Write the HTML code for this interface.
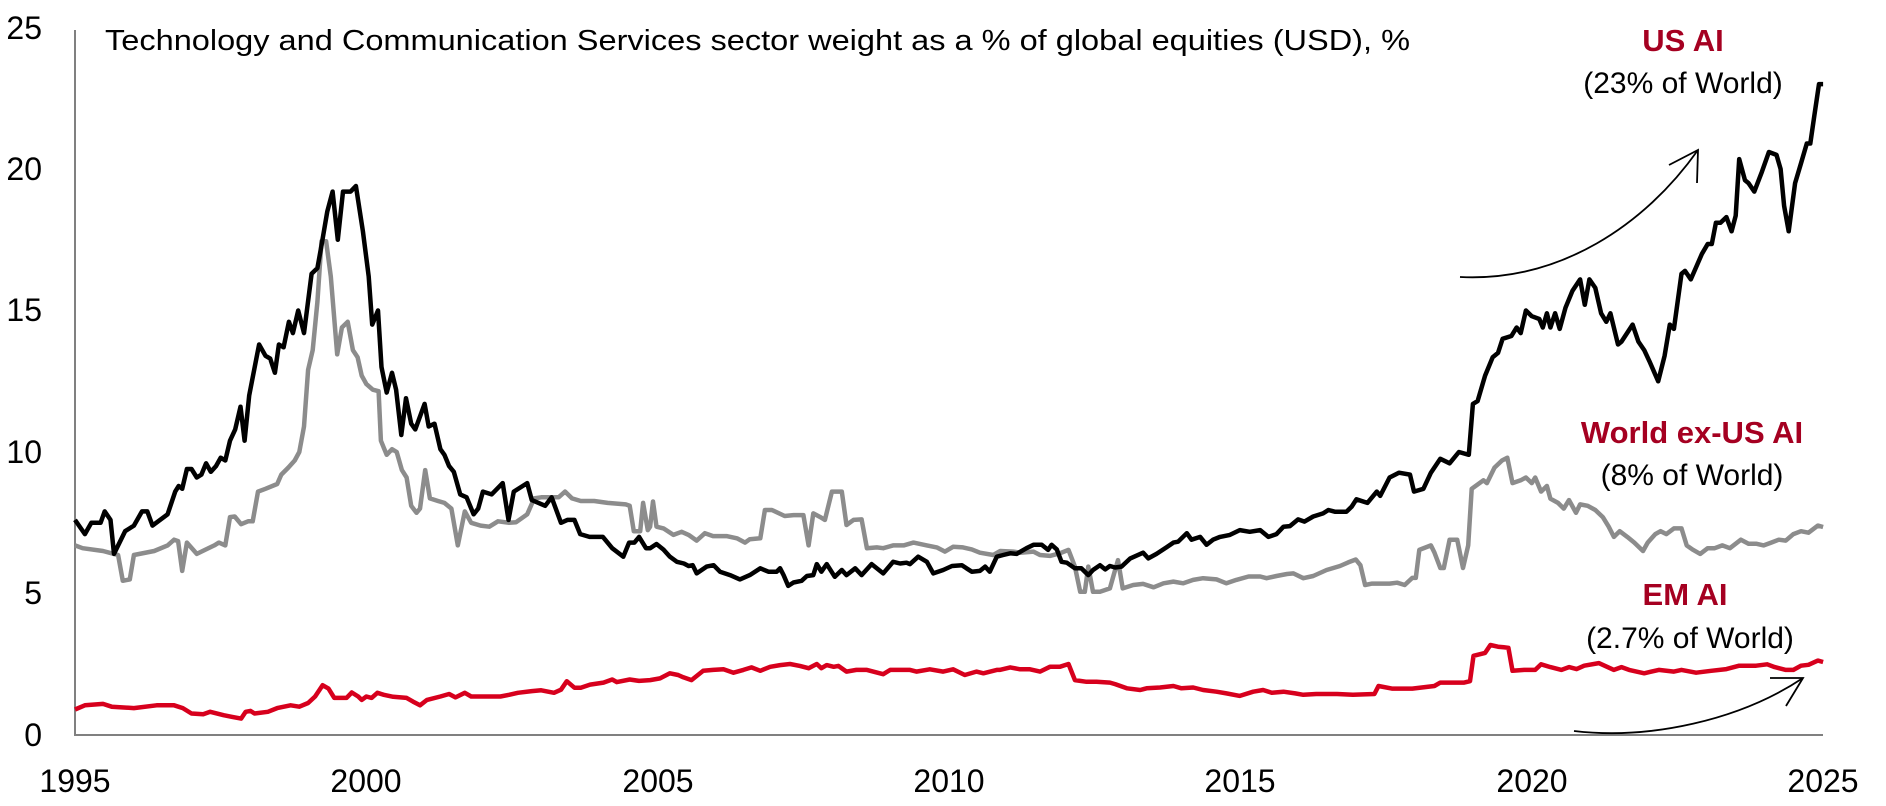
<!DOCTYPE html>
<html><head><meta charset="utf-8"><style>
html,body{margin:0;padding:0;background:#fff;}
svg{display:block;}
text{font-family:"Liberation Sans",Arial,sans-serif;}
</style></head><body>
<svg id="s" width="1886" height="806" viewBox="0 0 1886 806" xmlns="http://www.w3.org/2000/svg">
<rect width="1886" height="806" fill="#fff"/>
<line x1="75" y1="30" x2="75" y2="736" stroke="#808080" stroke-width="2"/>
<line x1="74" y1="735" x2="1823" y2="735" stroke="#808080" stroke-width="2"/>
<g font-size="32" fill="#000" text-anchor="end">
<text x="42" y="746">0</text>
<text x="42" y="604">5</text>
<text x="42" y="463">10</text>
<text x="42" y="321">15</text>
<text x="42" y="180">20</text>
<text x="42" y="39">25</text>
</g>
<g font-size="32" fill="#000" text-anchor="middle">
<text x="75" y="792">1995</text>
<text x="366" y="792">2000</text>
<text x="658" y="792">2005</text>
<text x="949" y="792">2010</text>
<text x="1240" y="792">2015</text>
<text x="1532" y="792">2020</text>
<text x="1823" y="792">2025</text>
</g>
<text x="105" y="50" font-size="29" fill="#000" textLength="1305" lengthAdjust="spacingAndGlyphs">Technology and Communication Services sector weight as a % of global equities (USD), %</text>
<g text-anchor="middle">
<text x="1683" y="51" font-size="31" font-weight="bold" fill="#a50021">US AI</text>
<text x="1683" y="93" font-size="30" fill="#000">(23% of World)</text>
<text x="1692" y="443" font-size="31" font-weight="bold" fill="#a50021">World ex-US AI</text>
<text x="1692" y="485" font-size="30" fill="#000">(8% of World)</text>
<text x="1685" y="605" font-size="31" font-weight="bold" fill="#a50021">EM AI</text>
<text x="1690" y="648" font-size="30" fill="#000">(2.7% of World)</text>
</g>
<path id="red" fill="none" stroke="#d7001d" stroke-width="4.5" stroke-linejoin="round"/>
<path id="gray" fill="none" stroke="#8c8c8c" stroke-width="4.5" stroke-linejoin="round"/>
<path id="black" fill="none" stroke="#000" stroke-width="4.5" stroke-linejoin="round"/>
<path d="M1460,277 C1560,282 1645,225 1698,150" fill="none" stroke="#000" stroke-width="1.8"/>
<path d="M1669,165 L1698,150 L1697,183" fill="none" stroke="#000" stroke-width="1.8"/>
<path d="M1574,731 C1650,740 1740,720 1803,678" fill="none" stroke="#000" stroke-width="1.8"/>
<path d="M1770,678 L1803,678 L1786,706" fill="none" stroke="#000" stroke-width="1.8"/>
</svg>
<script>
function X(y){return 75+(y-1995)*58.27;}
function Y(v){return 735-v*28.3;}
function P(a){var s="";for(var i=0;i<a.length;i+=2){s+=(i?"L":"M")+X(a[i]).toFixed(1)+","+Y(a[i+1]).toFixed(1);}return s;}
var black=[1995.0,7.6,1995.17,7.1,1995.28,7.5,1995.44,7.5,1995.51,7.9,1995.61,7.6,1995.67,6.4,1995.86,7.2,1996.01,7.4,1996.15,7.9,1996.24,7.9,1996.33,7.4,1996.59,7.8,1996.72,8.6,1996.78,8.8,1996.84,8.7,1996.92,9.4,1997.0,9.4,1997.09,9.1,1997.17,9.2,1997.25,9.6,1997.33,9.3,1997.42,9.5,1997.5,9.8,1997.58,9.7,1997.66,10.4,1997.75,10.8,1997.84,11.6,1997.91,10.4,1997.99,12.0,1998.16,13.8,1998.27,13.4,1998.35,13.3,1998.43,12.8,1998.5,13.8,1998.58,13.7,1998.67,14.6,1998.74,14.2,1998.83,15.0,1998.93,14.2,1999.06,16.3,1999.16,16.5,1999.23,17.3,1999.33,18.5,1999.42,19.2,1999.51,17.5,1999.6,19.2,1999.73,19.2,1999.82,19.4,1999.94,17.8,2000.04,16.2,2000.1,14.5,2000.2,15.0,2000.26,13.0,2000.35,12.1,2000.44,12.8,2000.51,12.2,2000.6,10.6,2000.68,11.9,2000.77,11.0,2000.84,10.8,2001.0,11.7,2001.07,10.9,2001.17,11.0,2001.27,10.1,2001.34,9.9,2001.42,9.5,2001.5,9.3,2001.61,8.5,2001.72,8.4,2001.84,7.8,2001.92,8.0,2002.0,8.6,2002.15,8.5,2002.34,8.9,2002.44,7.6,2002.53,8.6,2002.76,8.9,2002.84,8.3,2003.07,8.1,2003.18,8.4,2003.34,7.5,2003.45,7.6,2003.57,7.6,2003.67,7.1,2003.83,7.0,2004.06,7.0,2004.22,6.6,2004.41,6.3,2004.51,6.8,2004.6,6.8,2004.68,7.0,2004.8,6.6,2004.87,6.6,2004.98,6.75,2005.1,6.55,2005.21,6.3,2005.33,6.12,2005.45,6.06,2005.53,5.97,2005.6,6.0,2005.67,5.71,2005.84,5.95,2005.96,6.0,2006.07,5.77,2006.24,5.65,2006.41,5.5,2006.58,5.65,2006.76,5.89,2006.9,5.77,2007.04,5.77,2007.1,5.89,2007.16,5.65,2007.24,5.27,2007.33,5.39,2007.47,5.45,2007.56,5.62,2007.67,5.65,2007.73,6.04,2007.81,5.77,2007.9,6.04,2008.04,5.59,2008.16,5.83,2008.24,5.65,2008.39,5.89,2008.5,5.65,2008.67,6.04,2008.87,5.71,2009.04,6.12,2009.16,6.06,2009.27,6.09,2009.33,6.04,2009.47,6.3,2009.62,6.12,2009.73,5.71,2009.9,5.83,2010.05,5.97,2010.22,6.0,2010.3,5.89,2010.39,5.77,2010.53,5.8,2010.62,5.95,2010.7,5.77,2010.82,6.3,2010.93,6.36,2011.05,6.42,2011.16,6.4,2011.33,6.6,2011.45,6.72,2011.59,6.72,2011.7,6.54,2011.76,6.72,2011.85,6.56,2011.93,6.12,2012.02,6.09,2012.16,5.89,2012.27,5.89,2012.39,5.65,2012.47,5.83,2012.59,6.0,2012.68,5.85,2012.76,5.97,2012.85,5.92,2012.96,5.95,2013.11,6.24,2013.33,6.44,2013.42,6.24,2013.56,6.4,2013.73,6.63,2013.85,6.8,2013.93,6.83,2014.08,7.13,2014.16,6.9,2014.31,7.0,2014.42,6.72,2014.53,6.9,2014.65,7.0,2014.82,7.07,2014.99,7.24,2015.16,7.18,2015.34,7.24,2015.48,7.0,2015.62,7.1,2015.74,7.36,2015.85,7.38,2015.99,7.62,2016.1,7.54,2016.25,7.72,2016.42,7.83,2016.51,7.95,2016.62,7.89,2016.82,7.89,2016.91,8.07,2016.99,8.33,2017.18,8.2,2017.34,8.6,2017.4,8.45,2017.56,9.1,2017.72,9.27,2017.91,9.2,2017.98,8.6,2018.14,8.7,2018.27,9.27,2018.43,9.76,2018.59,9.6,2018.75,10.0,2018.92,9.9,2018.99,11.7,2019.07,11.8,2019.2,12.7,2019.33,13.35,2019.42,13.5,2019.5,14.0,2019.65,14.1,2019.74,14.4,2019.81,14.2,2019.9,15.0,2020.0,14.8,2020.13,14.7,2020.19,14.4,2020.26,14.9,2020.32,14.4,2020.4,14.9,2020.48,14.35,2020.58,15.1,2020.7,15.7,2020.83,16.1,2020.91,15.2,2020.99,16.1,2021.09,15.8,2021.19,14.9,2021.28,14.6,2021.35,14.9,2021.48,13.8,2021.54,13.9,2021.73,14.5,2021.83,13.9,2021.93,13.6,2022.02,13.2,2022.17,12.5,2022.28,13.4,2022.37,14.5,2022.44,14.35,2022.57,16.3,2022.63,16.4,2022.73,16.1,2022.92,17.0,2023.02,17.35,2023.09,17.35,2023.16,18.1,2023.24,18.1,2023.34,18.3,2023.43,17.8,2023.5,18.35,2023.56,20.35,2023.66,19.6,2023.72,19.5,2023.82,19.2,2023.95,19.9,2024.07,20.6,2024.2,20.5,2024.27,20.0,2024.33,18.7,2024.41,17.8,2024.52,19.5,2024.62,20.2,2024.72,20.9,2024.78,20.9,2024.85,21.9,2024.93,23.0,2025.0,23.0];
var gray=[1995.0,6.7,1995.13,6.6,1995.48,6.5,1995.67,6.4,1995.74,6.36,1995.82,5.45,1995.94,5.5,1996.01,6.36,1996.36,6.5,1996.59,6.7,1996.7,6.9,1996.77,6.85,1996.84,5.8,1996.92,6.8,1997.09,6.4,1997.24,6.55,1997.39,6.7,1997.47,6.8,1997.58,6.7,1997.66,7.7,1997.74,7.72,1997.85,7.45,1997.97,7.55,1998.05,7.55,1998.14,8.6,1998.27,8.7,1998.47,8.87,1998.54,9.2,1998.66,9.45,1998.77,9.7,1998.85,10.0,1998.93,10.9,1999.0,12.9,1999.08,13.6,1999.16,15.3,1999.23,17.45,1999.31,17.45,1999.39,16.2,1999.5,13.45,1999.58,14.4,1999.68,14.6,1999.77,13.6,1999.85,13.35,1999.92,12.7,2000.0,12.4,2000.11,12.2,2000.21,12.15,2000.25,10.4,2000.35,9.9,2000.44,10.1,2000.52,10.0,2000.61,9.36,2000.69,9.1,2000.77,8.1,2000.86,7.85,2000.92,8.0,2001.01,9.36,2001.09,8.36,2001.23,8.27,2001.34,8.2,2001.46,8.0,2001.57,6.7,2001.69,7.9,2001.8,7.5,2001.96,7.4,2002.11,7.36,2002.26,7.55,2002.45,7.5,2002.57,7.52,2002.76,7.8,2002.88,8.36,2003.0,8.4,2003.3,8.4,2003.41,8.6,2003.53,8.36,2003.68,8.27,2003.91,8.27,2004.14,8.2,2004.45,8.15,2004.52,8.1,2004.59,7.2,2004.7,7.2,2004.75,8.2,2004.83,7.24,2004.87,7.36,2004.92,8.25,2004.98,7.36,2005.1,7.3,2005.27,7.07,2005.41,7.18,2005.53,7.07,2005.67,6.87,2005.81,7.13,2005.95,7.03,2006.18,7.03,2006.36,6.95,2006.5,6.8,2006.58,6.92,2006.76,6.95,2006.84,7.95,2006.96,7.95,2007.18,7.74,2007.33,7.77,2007.5,7.77,2007.59,6.7,2007.67,7.83,2007.79,7.7,2007.87,7.6,2007.99,8.6,2008.16,8.6,2008.24,7.42,2008.36,7.6,2008.5,7.62,2008.59,6.6,2008.76,6.63,2008.87,6.6,2009.04,6.7,2009.22,6.7,2009.39,6.8,2009.62,6.7,2009.79,6.63,2009.93,6.48,2010.07,6.65,2010.24,6.63,2010.39,6.56,2010.53,6.44,2010.76,6.36,2010.88,6.5,2011.1,6.48,2011.22,6.44,2011.45,6.48,2011.56,6.36,2011.73,6.33,2011.9,6.42,2012.05,6.54,2012.16,5.95,2012.25,5.06,2012.33,5.06,2012.39,5.95,2012.47,5.06,2012.59,5.06,2012.76,5.18,2012.85,5.83,2012.9,6.18,2012.98,5.18,2013.16,5.3,2013.33,5.34,2013.51,5.22,2013.68,5.36,2013.85,5.42,2014.02,5.36,2014.19,5.48,2014.36,5.54,2014.59,5.5,2014.76,5.36,2014.93,5.48,2015.14,5.6,2015.34,5.6,2015.45,5.54,2015.62,5.62,2015.8,5.69,2015.91,5.71,2016.08,5.54,2016.25,5.62,2016.48,5.83,2016.71,5.97,2016.85,6.1,2016.98,6.2,2017.06,6.0,2017.14,5.3,2017.26,5.35,2017.56,5.35,2017.69,5.38,2017.82,5.3,2017.95,5.55,2018.01,5.55,2018.07,6.54,2018.27,6.7,2018.33,6.45,2018.43,5.9,2018.49,5.9,2018.59,6.9,2018.72,6.9,2018.82,5.9,2018.91,6.7,2018.97,8.7,2019.17,9.0,2019.23,8.9,2019.36,9.45,2019.49,9.7,2019.58,9.8,2019.67,8.9,2019.81,9.0,2019.9,9.1,2020.0,8.9,2020.06,9.1,2020.16,8.6,2020.26,8.8,2020.32,8.35,2020.45,8.2,2020.55,8.0,2020.64,8.3,2020.76,7.85,2020.83,8.15,2020.96,8.1,2021.09,7.95,2021.22,7.7,2021.32,7.36,2021.41,7.0,2021.51,7.2,2021.64,7.0,2021.76,6.8,2021.91,6.5,2021.99,6.8,2022.12,7.1,2022.21,7.2,2022.31,7.1,2022.44,7.3,2022.57,7.3,2022.66,6.7,2022.76,6.55,2022.89,6.4,2023.02,6.6,2023.14,6.6,2023.27,6.7,2023.4,6.6,2023.59,6.9,2023.72,6.76,2023.85,6.76,2023.98,6.7,2024.11,6.8,2024.24,6.9,2024.36,6.87,2024.49,7.1,2024.62,7.2,2024.75,7.15,2024.91,7.4,2025.0,7.35];
var red=[1995.0,0.9,1995.17,1.05,1995.48,1.1,1995.63,1.0,1996.01,0.95,1996.4,1.05,1996.7,1.05,1996.85,0.95,1997.0,0.76,1997.2,0.73,1997.32,0.82,1997.55,0.7,1997.7,0.64,1997.85,0.58,1997.93,0.82,1998.01,0.85,1998.08,0.76,1998.31,0.82,1998.47,0.95,1998.7,1.05,1998.85,1.0,1999.0,1.13,1999.12,1.36,1999.25,1.76,1999.35,1.64,1999.45,1.31,1999.66,1.31,1999.75,1.5,1999.86,1.36,1999.92,1.24,2000.0,1.36,2000.09,1.31,2000.19,1.49,2000.3,1.42,2000.46,1.35,2000.69,1.31,2000.8,1.18,2000.92,1.05,2001.04,1.24,2001.27,1.36,2001.42,1.45,2001.53,1.33,2001.69,1.49,2001.8,1.36,2002.0,1.36,2002.3,1.36,2002.45,1.42,2002.6,1.49,2002.84,1.55,2003.0,1.58,2003.22,1.49,2003.34,1.6,2003.44,1.9,2003.57,1.67,2003.68,1.67,2003.84,1.78,2004.07,1.85,2004.22,1.96,2004.3,1.87,2004.52,1.96,2004.68,1.91,2004.87,1.94,2005.04,2.0,2005.21,2.18,2005.35,2.12,2005.44,2.04,2005.58,1.94,2005.78,2.27,2005.95,2.3,2006.13,2.32,2006.3,2.2,2006.47,2.3,2006.61,2.39,2006.76,2.27,2006.93,2.41,2007.1,2.47,2007.27,2.51,2007.44,2.44,2007.59,2.36,2007.73,2.51,2007.81,2.36,2007.9,2.47,2008.02,2.41,2008.1,2.44,2008.24,2.24,2008.41,2.3,2008.59,2.3,2008.87,2.15,2008.99,2.3,2009.33,2.3,2009.44,2.24,2009.67,2.32,2009.9,2.24,2010.07,2.32,2010.27,2.12,2010.47,2.24,2010.59,2.18,2010.82,2.3,2010.87,2.3,2011.05,2.39,2011.22,2.32,2011.39,2.32,2011.56,2.24,2011.73,2.41,2011.9,2.41,2012.05,2.51,2012.16,1.94,2012.36,1.88,2012.53,1.88,2012.76,1.85,2012.85,1.8,2013.05,1.65,2013.28,1.59,2013.39,1.65,2013.62,1.68,2013.85,1.73,2013.99,1.65,2014.19,1.68,2014.36,1.59,2014.59,1.53,2014.76,1.47,2014.99,1.38,2015.22,1.53,2015.39,1.59,2015.54,1.49,2015.74,1.53,2015.94,1.47,2016.08,1.42,2016.3,1.45,2016.66,1.45,2016.93,1.42,2017.3,1.45,2017.37,1.73,2017.6,1.64,2017.95,1.64,2018.33,1.73,2018.43,1.85,2018.84,1.85,2018.94,1.9,2019.0,2.8,2019.2,2.9,2019.29,3.18,2019.42,3.12,2019.52,3.1,2019.6,3.08,2019.67,2.27,2019.87,2.3,2020.06,2.3,2020.16,2.5,2020.32,2.4,2020.51,2.3,2020.64,2.4,2020.77,2.33,2020.9,2.45,2021.15,2.54,2021.41,2.3,2021.54,2.4,2021.67,2.3,2021.93,2.18,2022.18,2.3,2022.44,2.24,2022.57,2.3,2022.82,2.2,2023.08,2.27,2023.34,2.33,2023.56,2.45,2023.85,2.45,2024.04,2.5,2024.17,2.4,2024.36,2.3,2024.49,2.3,2024.62,2.45,2024.75,2.48,2024.91,2.63,2025.0,2.58];
document.getElementById("black").setAttribute("d",P(black));
document.getElementById("gray").setAttribute("d",P(gray));
document.getElementById("red").setAttribute("d",P(red));
</script>
</body></html>
